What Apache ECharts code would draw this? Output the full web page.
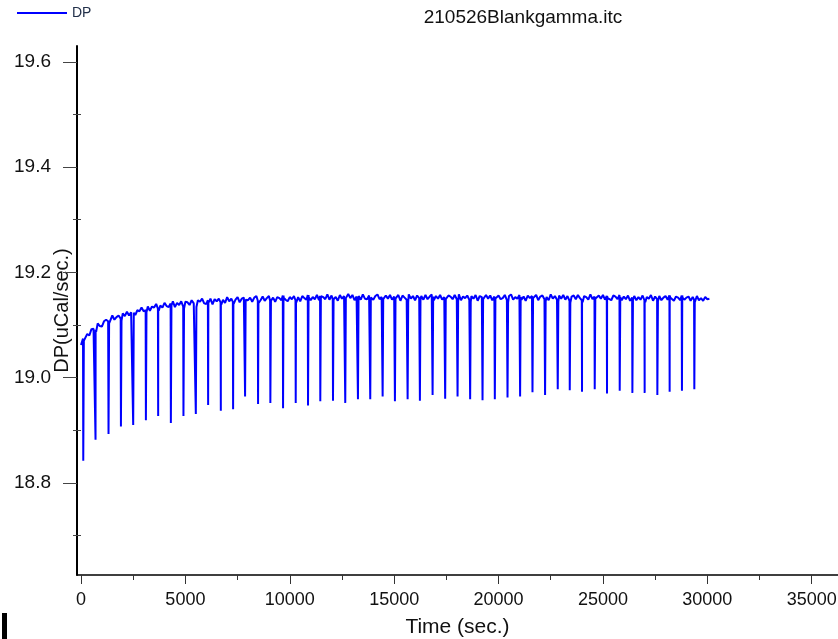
<!DOCTYPE html>
<html>
<head>
<meta charset="utf-8">
<script src="https://cdn.jsdelivr.net/npm/echarts@6/dist/echarts.min.js"></script>
<style>
  html, body { margin: 0; padding: 0; background: #fff; }
  #chart { width: 838px; height: 639px; }
</style>
</head>
<body>
<div id="chart"></div>
<script>
// DP baseline, logged every 100 s from t = 0 (uCal/sec)
const sampleInterval = 100;
const baselineDP = [
  19.062,19.074,19.073,19.083,19.080,19.092,19.093,19.091,19.103,19.098,
  19.097,19.107,19.110,19.107,19.106,19.118,19.110,19.115,19.118,19.112,
  19.122,19.117,19.125,19.118,19.124,19.127,19.119,19.128,19.126,19.133,
  19.126,19.128,19.135,19.127,19.135,19.133,19.140,19.131,19.137,19.133,
  19.142,19.136,19.134,19.141,19.145,19.134,19.142,19.138,19.145,19.135,
  19.144,19.143,19.138,19.147,19.141,19.138,19.147,19.144,19.150,19.141,
  19.140,19.147,19.150,19.139,19.149,19.145,19.150,19.143,19.148,19.142,
  19.153,19.145,19.150,19.144,19.148,19.153,19.143,19.150,19.152,19.145,
  19.147,19.152,19.144,19.152,19.155,19.146,19.147,19.154,19.146,19.151,
  19.155,19.146,19.152,19.144,19.153,19.151,19.147,19.156,19.148,19.145,
  19.153,19.149,19.155,19.147,19.153,19.145,19.155,19.151,19.148,19.157,
  19.147,19.153,19.149,19.157,19.147,19.155,19.153,19.149,19.158,19.148,
  19.156,19.149,19.153,19.146,19.157,19.150,19.155,19.148,19.159,19.151,
  19.157,19.147,19.154,19.155,19.148,19.158,19.150,19.149,19.156,19.151,
  19.148,19.155,19.158,19.149,19.153,19.147,19.156,19.150,19.157,19.148,
  19.154,19.149,19.157,19.146,19.156,19.152,19.148,19.158,19.150,19.155,
  19.147,19.156,19.151,19.155,19.148,19.157,19.149,19.154,19.158,19.147,
  19.155,19.150,19.157,19.148,19.153,19.146,19.156,19.154,19.149,19.157,
  19.149,19.158,19.147,19.154,19.151,19.156,19.148,19.155,19.150,19.157,
  19.146,19.155,19.153,19.148,19.157,19.150,19.156,19.147,19.154,19.152,
  19.156,19.149,19.151,19.157,19.147,19.155,19.158,19.148,19.153,19.150,
  19.157,19.148,19.154,19.146,19.156,19.151,19.155,19.149,19.157,19.147,
  19.154,19.156,19.149,19.153,19.147,19.158,19.150,19.155,19.148,19.156,
  19.150,19.157,19.148,19.155,19.146,19.154,19.156,19.149,19.157,19.151,
  19.147,19.155,19.153,19.148,19.158,19.149,19.154,19.147,19.156,19.150,
  19.157,19.148,19.155,19.151,19.147,19.156,19.154,19.149,19.157,19.147,
  19.154,19.149,19.156,19.146,19.152,19.155,19.147,19.153,19.148,19.156,
  19.147,19.153,19.150,19.157,19.146,19.154,19.149,19.155,19.147,19.152,
  19.155,19.148,19.156,19.149,19.146,19.154,19.152,19.147,19.156,19.148,
  19.152,19.154,19.146,19.153,19.148,19.155,19.147,19.151,19.146,19.153,
  19.149,19.150
];

// Injection times (s) and the minimum DP reached at each injection
const injectionTimes = [
  96, 684, 1306, 1900, 2488, 3096, 3684, 4292, 4895, 5488,
  6077, 6685, 7273, 7847, 8469, 9058, 9666, 10273, 10862, 11450,
  12058, 12646, 13254, 13843, 14436, 15025, 15633, 16221, 16829, 17432,
  18025, 18628, 19221, 19810, 20418, 21021, 21614, 22217, 22824, 23399,
  23987, 24595, 25184, 25792, 26399, 26987, 27595, 28184, 28773, 29366
];
const injectionMinima = [
  18.842, 18.882, 18.893, 18.907, 18.910, 18.919, 18.927, 18.914, 18.927, 18.931,
  18.948, 18.937, 18.940, 18.964, 18.950, 18.952, 18.942, 18.952, 18.947, 18.955,
  18.956, 18.952, 18.959, 18.959, 18.964, 18.955, 18.959, 18.956, 18.967, 18.960,
  18.964, 18.959, 18.957, 18.959, 18.962, 18.964, 18.972, 18.967, 18.978, 18.976,
  18.973, 18.978, 18.970, 18.975, 18.971, 18.971, 18.967, 18.973, 18.975, 18.978
];

// Axis tick positions
const xMajorTicks = [0, 5000, 10000, 15000, 20000, 25000, 30000, 35000];
const xMinorTicks = [2500, 7500, 12500, 17500, 22500, 27500, 32500];
const yMajorTicks = [18.8, 19.0, 19.2, 19.4, 19.6];
const yMinorTicks = [18.7, 18.9, 19.1, 19.3, 19.5];

const xMin = -192, xMax = 36260;
const yMin = 18.625, yMax = 19.63;

// Build the trace: logged baseline plus the injection dips
const baseline = baselineDP.map((v, i) => [i * sampleInterval, v]);
function nearestBase(t) {
  const i = Math.min(baselineDP.length - 1, Math.max(0, Math.round(t / sampleInterval)));
  return baselineDP[i];
}
const trace = baseline.map(p => p.slice());
injectionTimes.forEach((t, i) => {
  const b = nearestBase(t);
  trace.push([t, b]);
  trace.push([t + 12, injectionMinima[i]]);
  trace.push([t + 40, b - 0.004]);
});
trace.sort((a, b) => a[0] - b[0]);

const font = 'Liberation Sans, Arial, sans-serif';
const chart = echarts.init(document.getElementById('chart'), null, { renderer: 'canvas' });

chart.setOption({
  animation: false,
  backgroundColor: '#ffffff',
  textStyle: { fontFamily: font },
  legend: {
    show: true,
    left: 17, top: 6, padding: 0,
    itemWidth: 50, itemHeight: 2,
    icon: 'rect',
    data: ['DP'],
    itemStyle: { color: '#0000ff', borderWidth: 0 },
    textStyle: { color: '#22304a', fontSize: 14, fontFamily: font }
  },
  graphic: [
    {
      type: 'text', x: 523, y: 18,
      style: { text: '210526Blankgamma.itc', textAlign: 'center', textVerticalAlign: 'middle',
               font: '19px ' + font, fill: '#111' }
    },
    { type: 'rect', shape: { x: 2, y: 613, width: 5, height: 26 }, style: { fill: '#000' } }
  ],
  grid: { left: 77, right: 0, top: 46, bottom: 64, containLabel: false, outerBoundsMode: 'none' },
  xAxis: [
    {
      type: 'value', min: xMin, max: xMax, position: 'bottom',
      name: 'Time (sec.)', nameLocation: 'middle', nameGap: 42, nameMoveOverlap: false,
      nameTextStyle: { fontSize: 21, color: '#111', fontFamily: font },
      axisLine: { show: true, onZero: false, lineStyle: { color: '#000', width: 1.5 } },
      axisTick: { show: true, customValues: xMajorTicks, length: 9, lineStyle: { color: '#333', width: 1 } },
      axisLabel: { customValues: xMajorTicks, margin: 16, fontSize: 18, color: '#111', fontFamily: font,
                   formatter: v => String(v) },
      splitLine: { show: false }
    },
    {
      type: 'value', min: xMin, max: xMax, position: 'bottom',
      axisLine: { show: false },
      axisTick: { show: true, customValues: xMinorTicks, length: 5, lineStyle: { color: '#333', width: 1 } },
      axisLabel: { show: false },
      splitLine: { show: false }
    }
  ],
  yAxis: [
    {
      type: 'value', min: yMin, max: yMax, position: 'left',
      name: 'DP(uCal/sec.)', nameLocation: 'middle', nameGap: 5, nameRotate: 90, nameMoveOverlap: false,
      nameTextStyle: { fontSize: 20, color: '#111', fontFamily: font },
      axisLine: { show: true, onZero: false, lineStyle: { color: '#000', width: 2 } },
      axisTick: { show: true, customValues: yMajorTicks, length: 14, lineStyle: { color: '#444', width: 1 } },
      axisLabel: { customValues: yMajorTicks, margin: 26, fontSize: 19, color: '#111', fontFamily: font,
                   formatter: v => v.toFixed(1) },
      splitLine: { show: false }
    },
    {
      type: 'value', min: yMin, max: yMax, position: 'left',
      axisLine: { show: false },
      axisTick: { show: true, customValues: yMinorTicks, length: 8, lineStyle: { color: '#444', width: 1 } },
      axisLabel: { show: false },
      splitLine: { show: false }
    }
  ],
  series: [
    {
      name: 'DP', type: 'line', xAxisIndex: 0, yAxisIndex: 0,
      data: trace, symbol: 'none', showSymbol: false,
      lineStyle: { color: '#0000ff', width: 2 },
      itemStyle: { color: '#0000ff' }
    }
  ]
});
</script>
</body>
</html>
